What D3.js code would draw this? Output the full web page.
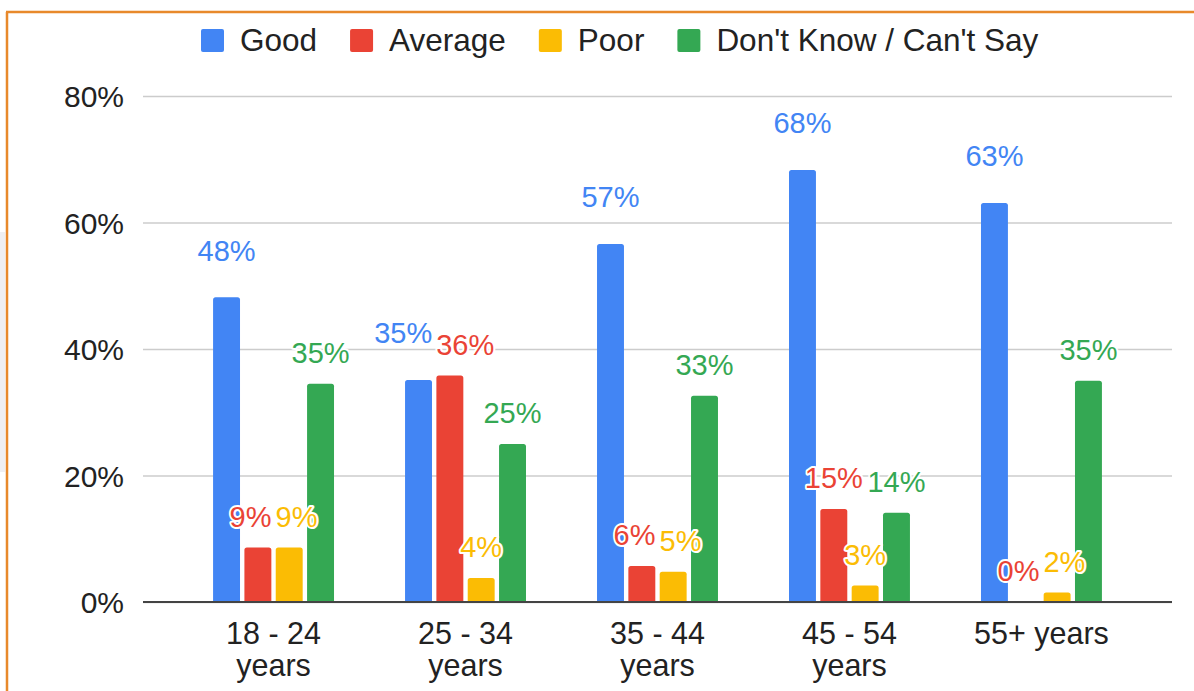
<!DOCTYPE html>
<html>
<head>
<meta charset="utf-8">
<script src="https://cdn.jsdelivr.net/npm/d3@7"></script>
<style>
  html, body { margin: 0; padding: 0; background: #fff; }
  svg text { font-family: Arial, "Liberation Sans", sans-serif; }
</style>
</head>
<body>
<script>
// Survey answers by age group (percent)
var categories = ["18 - 24 years", "25 - 34 years", "35 - 44 years", "45 - 54 years", "55+ years"];
var seriesNames = ["Good", "Average", "Poor", "Don't Know / Can't Say"];
var good = [48.2, 35.1, 56.6, 68.3, 63.1];
var average = [8.6, 35.8, 5.7, 14.7, 0];
var poor = [8.6, 3.8, 4.8, 2.6, 1.5];
var dontKnow = [34.5, 25.0, 32.6, 14.1, 35.0];
var yTicks = [0, 20, 40, 60, 80];

var colors = ["#4285f4", "#ea4335", "#fbbc04", "#34a853"];
var values = [good, average, poor, dontKnow];

var width = 1194, height = 691;
var plot = {left: 143, right: 1172, top: 96, bottom: 602};

var svg = d3.select("body").append("svg")
    .attr("width", width)
    .attr("height", height);

// frame of the screenshot
svg.append("rect").attr("x", 0).attr("y", 232).attr("width", 5).attr("height", 240).attr("fill", "#efeff2");
svg.append("line").attr("x1", 7).attr("x2", 7).attr("y1", 12).attr("y2", height)
    .attr("stroke", "#e8892b").attr("stroke-width", 2.5);
svg.append("line").attr("x1", 6).attr("x2", width).attr("y1", 12).attr("y2", 12)
    .attr("stroke", "#e8892b").attr("stroke-width", 2.5);

// Scales
var x = d3.scaleBand()
    .domain(categories)
    .range([plot.left, plot.right])
    .paddingInner(0.37)
    .paddingOuter(0.365);

var xSub = d3.scaleBand()
    .domain(seriesNames)
    .range([0, x.bandwidth()])
    .paddingInner(0.14);

var y = d3.scaleLinear()
    .domain([0, 80])
    .range([plot.bottom, plot.top]);

// Gridlines + y labels
var yAxis = d3.axisLeft(y)
    .tickValues(yTicks)
    .tickSize(-(plot.right - plot.left))
    .tickPadding(19)
    .tickFormat(function(d) { return d + "%"; });

var gy = svg.append("g")
    .attr("transform", "translate(" + plot.left + ",0)")
    .call(yAxis);
gy.select(".domain").remove();
gy.selectAll(".tick line").attr("stroke", "#cccccc").attr("stroke-width", 1.5);
gy.selectAll(".tick text").attr("font-size", 30).attr("fill", "#222").attr("dy", "0.36em");

// Bars
var rows = [];
categories.forEach(function(c, i) {
  seriesNames.forEach(function(s, j) {
    rows.push({cat: c, series: s, idx: j, value: values[j][i]});
  });
});

var groups = svg.append("g");
groups.selectAll("path")
  .data(rows.filter(function(d) { return d.value > 0; }))
  .enter()
  .append("path")
  .attr("fill", function(d) { return colors[d.idx]; })
  .attr("d", function(d) {
    var x0 = x(d.cat) + xSub(d.series), w = xSub.bandwidth();
    var y0 = y(d.value), y1 = y(0), r = Math.min(2.5, (y1 - y0) / 2);
    return "M" + x0 + "," + y1 + "V" + (y0 + r) + "Q" + x0 + "," + y0 + " " + (x0 + r) + "," + y0 +
      "H" + (x0 + w - r) + "Q" + (x0 + w) + "," + y0 + " " + (x0 + w) + "," + (y0 + r) + "V" + y1 + "Z";
  });

// Baseline
svg.append("line")
    .attr("x1", plot.left).attr("x2", plot.right)
    .attr("y1", y(0)).attr("y2", y(0))
    .attr("stroke", "#444").attr("stroke-width", 2);

// Category labels (wrap long ones onto two lines)
var gx = svg.append("g");
categories.forEach(function(c) {
  var t = gx.append("text")
      .attr("x", x(c) + x.bandwidth() / 2)
      .attr("y", 644)
      .attr("text-anchor", "middle")
      .attr("font-size", 30.5)
      .attr("fill", "#222")
      .text(c);
  if (t.node().getComputedTextLength() > 150) {
    var k = c.lastIndexOf(" ");
    t.text(c.slice(0, k));
    gx.append("text")
      .attr("x", x(c) + x.bandwidth() / 2)
      .attr("y", 676)
      .attr("text-anchor", "middle")
      .attr("font-size", 30.5)
      .attr("fill", "#222")
      .text(c.slice(k + 1));
  }
});

// Data labels with a white halo, pushed apart when they collide
var labelGap = [47, 31, 31, 31];
var lbl = svg.append("g").selectAll("text")
  .data(rows)
  .enter()
  .append("text")
  .attr("text-anchor", "middle")
  .attr("font-size", 29)
  .attr("fill", function(d) { return colors[d.idx]; })
  .attr("stroke", "#fff")
  .attr("stroke-width", 4)
  .attr("stroke-linejoin", "round")
  .attr("paint-order", "stroke")
  .text(function(d) { return Math.round(d.value) + "%"; })
  .each(function(d) {
    d.lx = x(d.cat) + xSub(d.series) + xSub.bandwidth() / 2;
    d.ly = y(d.value) - labelGap[d.idx];
    d.w = this.getComputedTextLength();
  });

categories.forEach(function(c) {
  var g = rows.filter(function(d) { return d.cat === c; });
  for (var it = 0; it < 4; it++) {
    for (var a = 0; a < g.length; a++) {
      for (var b = a + 1; b < g.length; b++) {
        var A = g[a], B = g[b];
        if (Math.abs(A.ly - B.ly) >= 22) continue;
        var ov = (A.w + B.w) / 2 + 4 - (B.lx - A.lx);
        if (ov > 0) { A.lx -= ov / 2; B.lx += ov / 2; }
      }
    }
  }
});

lbl.attr("x", function(d) { return d.lx; })
   .attr("y", function(d) { return d.ly; })
   .attr("dy", "0.36em");

// Legend
var legend = svg.append("g");
var lx = 201;
seriesNames.forEach(function(s, j) {
  legend.append("rect")
    .attr("x", lx).attr("y", 29)
    .attr("width", 23).attr("height", 23)
    .attr("rx", 2)
    .attr("fill", colors[j]);
  var t = legend.append("text")
    .attr("x", lx + 39).attr("y", 51)
    .attr("font-size", 31.5)
    .attr("fill", "#222")
    .text(s);
  lx += 39 + t.node().getComputedTextLength() + 33;
});
</script>
</body>
</html>
